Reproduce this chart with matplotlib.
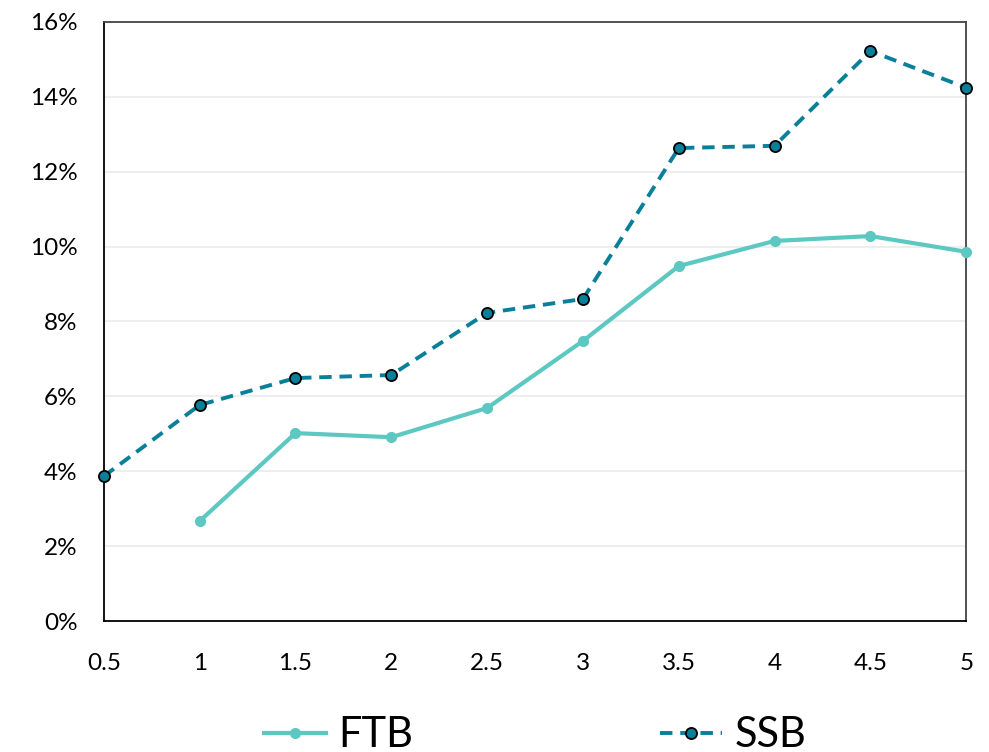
import matplotlib.pyplot as plt
from matplotlib.ticker import FuncFormatter

plt.rcParams['font.family'] = ['Lato', 'DejaVu Sans']

years = [0.5, 1, 1.5, 2, 2.5, 3, 3.5, 4, 4.5, 5]
ftb_x = [1, 1.5, 2, 2.5, 3, 3.5, 4, 4.5, 5]
ftb = [2.67, 5.02, 4.91, 5.69, 7.48, 9.48, 10.15, 10.28, 9.86]
ssb = [3.87, 5.77, 6.49, 6.57, 8.23, 8.60, 12.63, 12.69, 15.22, 14.24]

ftb_color = "#5CC8C1"
ssb_color = "#0A7F99"

fig, ax = plt.subplots(figsize=(9.89, 7.52), dpi=100)
fig.subplots_adjust(left=0.105, right=0.977, top=0.971, bottom=0.174)

ax.plot(ftb_x, ftb, color=ftb_color, lw=3, marker="o", ms=7,
        label="FTB", zorder=3)
ax.plot(years, ssb, color=ssb_color, lw=2.8, ls=(0, (3.2, 2)), marker="o",
        ms=8, mfc=ssb_color, mec="black", mew=1.3, label="SSB", zorder=4)

ax.set_xlim(0.5, 5)
ax.set_ylim(0, 16)
ax.set_xticks(years)
ax.set_xticklabels(["0.5", "1", "1.5", "2", "2.5", "3", "3.5", "4", "4.5", "5"])
ax.set_yticks(range(0, 17, 2))
ax.yaxis.set_major_formatter(FuncFormatter(lambda v, p: f"{v:.0f}%"))
ax.tick_params(labelsize=17.5, length=0)
ax.tick_params(axis="x", pad=23)
ax.tick_params(axis="y", pad=19)
ax.grid(axis="y", color="#EEEEEE", lw=1.5)
ax.set_axisbelow(True)

for side in ["left", "bottom"]:
    ax.spines[side].set_color("black")
    ax.spines[side].set_linewidth(1.3)
for side in ["top", "right"]:
    ax.spines[side].set_color("#444444")
    ax.spines[side].set_linewidth(1.3)

for m in ax.lines:
    m.set_clip_on(False)

fig.legend(loc="center", ncol=2, frameon=False, fontsize=30,
           bbox_to_anchor=(0.541, 0.022), columnspacing=5.9,
           handlelength=1.5, handletextpad=0.3)

fig.savefig("out.png")
